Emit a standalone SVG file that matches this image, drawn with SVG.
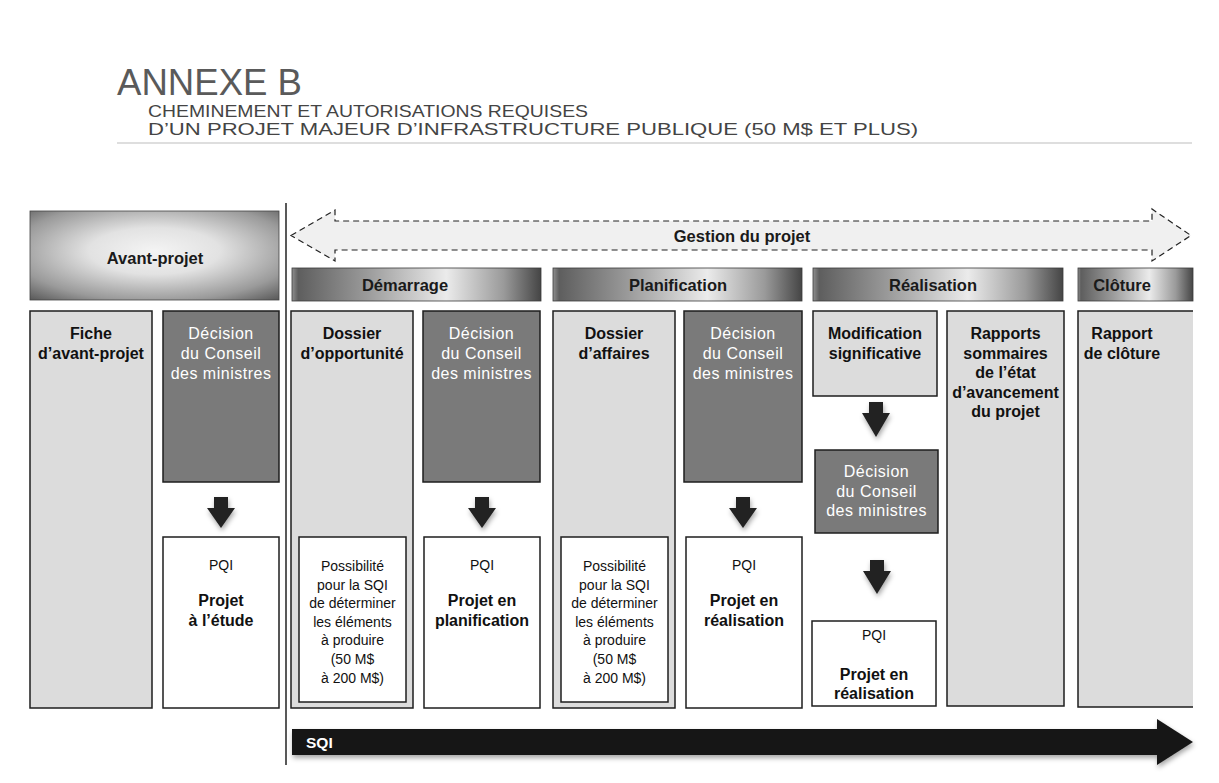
<svg xmlns="http://www.w3.org/2000/svg" width="1219" height="783" viewBox="0 0 1219 783">
<defs>
<style>
text{font-family:"Liberation Sans",Arial,sans-serif}
.title{fill:#5a5a5a}
.h{font-weight:bold;font-size:16px;fill:#111;text-anchor:middle}
.hw{font-size:16px;fill:#fff;text-anchor:middle;letter-spacing:0.5px}
.ph{font-weight:bold;font-size:16.5px;fill:#1a1a1a;text-anchor:middle}
.sm{font-size:14px;fill:#111;text-anchor:middle}
.light{fill:#dcdcdc;stroke:#1e1e1e;stroke-width:1.5}
.dark{fill:#7a7a7a;stroke:#1e1e1e;stroke-width:1.5}
.white{fill:#fff;stroke:#1e1e1e;stroke-width:1.5}
.bar{fill:url(#barGrad);stroke:#3a3a3a;stroke-width:0.8}
.down{fill:#222;filter:url(#sh)}
</style>
<linearGradient id="barGrad" x1="0" y1="0" x2="1" y2="0">
<stop offset="0" stop-color="#909090"/>
<stop offset="0.025" stop-color="#5e5e5e"/>
<stop offset="0.3" stop-color="#9a9a9a"/>
<stop offset="0.62" stop-color="#ebebeb"/>
<stop offset="0.85" stop-color="#9a9a9a"/>
<stop offset="1" stop-color="#454545"/>
</linearGradient>
<radialGradient id="avGrad" cx="0.5" cy="0.45" r="0.75">
<stop offset="0" stop-color="#f4f4f4"/>
<stop offset="0.35" stop-color="#e2e2e2"/>
<stop offset="0.75" stop-color="#9a9a9a"/>
<stop offset="1" stop-color="#555"/>
</radialGradient>
<filter id="sh" x="-50%" y="-50%" width="200%" height="200%">
<feDropShadow dx="1" dy="3" stdDeviation="2.5" flood-color="#000" flood-opacity="0.35"/>
</filter>
</defs>
<rect width="1219" height="783" fill="#fff"/>

<g id="header">
<text class="title" x="117" y="95" font-size="37" textLength="185" lengthAdjust="spacingAndGlyphs">ANNEXE B</text>
<text class="title" x="148" y="117" font-size="17" textLength="440" lengthAdjust="spacingAndGlyphs" style="fill:#444">CHEMINEMENT ET AUTORISATIONS REQUISES</text>
<text class="title" x="148" y="135" font-size="17" textLength="770" lengthAdjust="spacingAndGlyphs" style="fill:#444">D’UN PROJET MAJEUR D’INFRASTRUCTURE PUBLIQUE (50 M$ ET PLUS)</text>
<line x1="117" y1="143" x2="1192" y2="143" stroke="#bdbdbd" stroke-width="1.2"/>
</g>

<line id="divider" x1="286" y1="203" x2="286" y2="765" stroke="#222" stroke-width="1.5"/>

<g id="avant-projet">
<rect x="30" y="211" width="249" height="89" fill="url(#avGrad)" stroke="#444" stroke-width="0.8"/>
<text class="ph" x="155" y="264">Avant-projet</text>
</g>

<g id="gestion">
<path d="M291,235.5 L335,210 L335,221 L1152,221 L1152,209 L1191,235.5 L1152,261 L1152,250 L335,250 L335,261 Z" fill="#f0f0f0" stroke="#222" stroke-width="1.2" stroke-dasharray="6,4"/>
<text class="ph" x="742" y="242" font-size="17">Gestion du projet</text>
</g>

<g id="demarrage">
<rect class="bar" x="292" y="268" width="249" height="33"/>
<text class="ph" x="405" y="291">Démarrage</text>
</g>
<g id="planification">
<rect class="bar" x="553" y="268" width="249" height="33"/>
<text class="ph" x="678" y="291">Planification</text>
</g>
<g id="realisation">
<rect class="bar" x="813" y="268" width="250" height="33"/>
<text class="ph" x="933" y="291">Réalisation</text>
</g>
<g id="cloture">
<rect class="bar" x="1078" y="268" width="115" height="33"/>
<text class="ph" x="1122" y="291">Clôture</text>
</g>

<g id="fiche">
<rect class="light" x="30" y="311" width="122" height="397"/>
<text class="h" x="91" y="339">Fiche</text>
<text class="h" x="91" y="359">d’avant-projet</text>
</g>
<g id="decision1">
<rect class="dark" x="163" y="311" width="116" height="171"/>
<text class="hw" x="221" y="339">Décision</text>
<text class="hw" x="221" y="359">du Conseil</text>
<text class="hw" x="221" y="379">des ministres</text>
</g>
<g id="pqi1">
<rect class="white" x="163" y="537" width="116" height="171"/>
<text class="sm" x="221" y="570">PQI</text>
<text class="h" x="221" y="606">Projet</text>
<text class="h" x="221" y="626">à l’étude</text>
</g>

<g id="opportunite">
<rect class="light" x="291" y="311" width="122" height="397"/>
<text class="h" x="352" y="339">Dossier</text>
<text class="h" x="352" y="359">d’opportunité</text>
<rect class="white" x="299" y="537" width="107" height="165"/>
<text class="sm" x="352.5" y="571">Possibilité</text>
<text class="sm" x="352.5" y="589.6">pour la SQI</text>
<text class="sm" x="352.5" y="608.2">de déterminer</text>
<text class="sm" x="352.5" y="626.8">les éléments</text>
<text class="sm" x="352.5" y="645.4">à produire</text>
<text class="sm" x="352.5" y="664">(50 M$</text>
<text class="sm" x="352.5" y="682.6">à 200 M$)</text>
</g>
<g id="decision2">
<rect class="dark" x="423" y="311" width="117" height="171"/>
<text class="hw" x="481.5" y="339">Décision</text>
<text class="hw" x="481.5" y="359">du Conseil</text>
<text class="hw" x="481.5" y="379">des ministres</text>
</g>
<g id="pqi2">
<rect class="white" x="424" y="537" width="116" height="171"/>
<text class="sm" x="482" y="570">PQI</text>
<text class="h" x="482" y="606">Projet en</text>
<text class="h" x="482" y="626">planification</text>
</g>

<g id="affaires">
<rect class="light" x="553" y="311" width="122" height="397"/>
<text class="h" x="614" y="339">Dossier</text>
<text class="h" x="614" y="359">d’affaires</text>
<rect class="white" x="561" y="537" width="107" height="165"/>
<text class="sm" x="614.5" y="571">Possibilité</text>
<text class="sm" x="614.5" y="589.6">pour la SQI</text>
<text class="sm" x="614.5" y="608.2">de déterminer</text>
<text class="sm" x="614.5" y="626.8">les éléments</text>
<text class="sm" x="614.5" y="645.4">à produire</text>
<text class="sm" x="614.5" y="664">(50 M$</text>
<text class="sm" x="614.5" y="682.6">à 200 M$)</text>
</g>
<g id="decision3">
<rect class="dark" x="684" y="311" width="118" height="171"/>
<text class="hw" x="743" y="339">Décision</text>
<text class="hw" x="743" y="359">du Conseil</text>
<text class="hw" x="743" y="379">des ministres</text>
</g>
<g id="pqi3">
<rect class="white" x="686" y="537" width="116" height="171"/>
<text class="sm" x="744" y="570">PQI</text>
<text class="h" x="744" y="606">Projet en</text>
<text class="h" x="744" y="626">réalisation</text>
</g>

<g id="modification">
<rect class="light" x="813" y="311" width="124" height="85"/>
<text class="h" x="875" y="339">Modification</text>
<text class="h" x="875" y="359">significative</text>
</g>
<g id="decision4">
<rect class="dark" x="815" y="450" width="123" height="83"/>
<text class="hw" x="876.5" y="477">Décision</text>
<text class="hw" x="876.5" y="497">du Conseil</text>
<text class="hw" x="876.5" y="516">des ministres</text>
</g>
<g id="pqi4">
<rect class="white" x="812" y="621" width="124" height="85"/>
<text class="sm" x="874" y="640">PQI</text>
<text class="h" x="874" y="680">Projet en</text>
<text class="h" x="874" y="699">réalisation</text>
</g>

<g id="rapports">
<rect class="light" x="947" y="311" width="117" height="395"/>
<text class="h" x="1005.5" y="339">Rapports</text>
<text class="h" x="1005.5" y="359">sommaires</text>
<text class="h" x="1005.5" y="378">de l’état</text>
<text class="h" x="1005.5" y="398">d’avancement</text>
<text class="h" x="1005.5" y="417">du projet</text>
</g>
<g id="rapport-cloture">
<rect x="1078" y="311" width="115" height="396" fill="#dcdcdc"/>
<path d="M1193,311 H1078 V707 H1193" fill="none" stroke="#1e1e1e" stroke-width="1.5"/>
<text class="h" x="1122" y="339">Rapport</text>
<text class="h" x="1122" y="359">de clôture</text>
</g>

<g id="connectors">
<path class="down" d="M214,497 H228 V508 H235 L221,528 L207,508 H214 Z"/>
<path class="down" d="M475,497 H489 V508 H496 L482,528 L468,508 H475 Z"/>
<path class="down" d="M736,497 H750 V508 H757 L743,528 L729,508 H736 Z"/>
<path class="down" d="M869,402 H883 V413 H890 L876,437 L862,413 H869 Z"/>
<path class="down" d="M870,560 H884 V571 H891 L877,594 L863,571 H870 Z"/>
</g>

<g id="sqi">
<path d="M292,729 H1157 V719 L1193,742 L1157,765 V755 H292 Z" fill="#161616" filter="url(#sh)"/>
<text x="306" y="748" font-weight="bold" font-size="15.5" fill="#fff">SQI</text>
</g>
</svg>
